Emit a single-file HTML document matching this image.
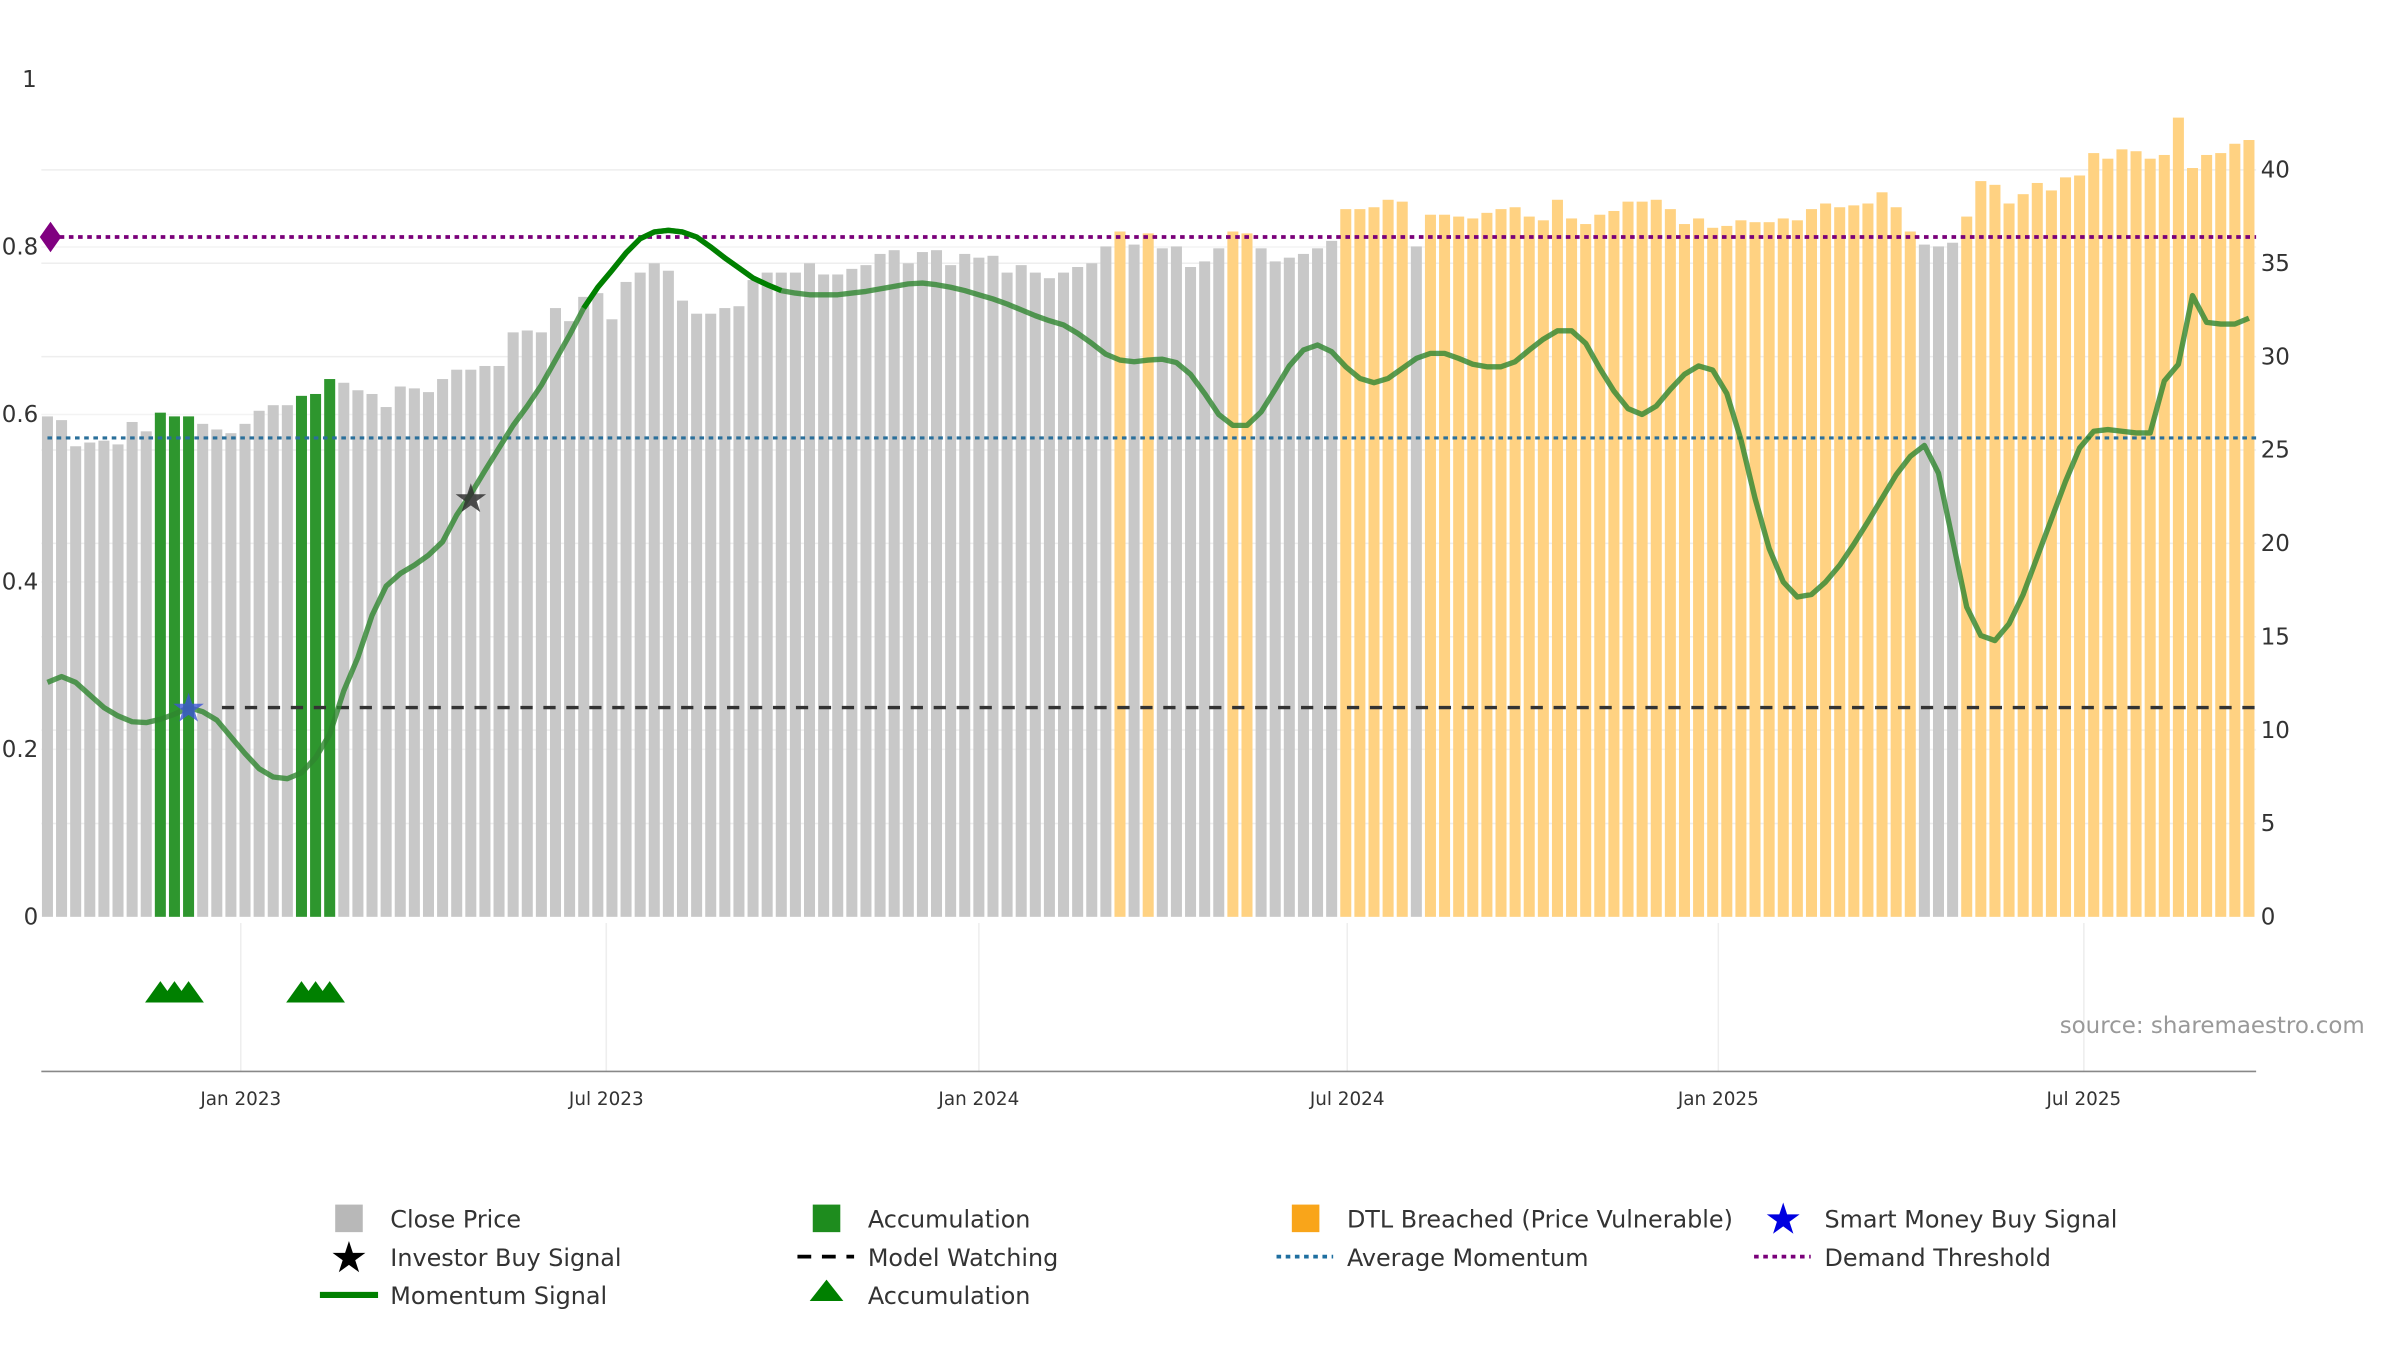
<!DOCTYPE html>
<html><head><meta charset="utf-8"><style>
html,body{margin:0;padding:0;background:#fff;}
svg{display:block;font-family:"DejaVu Sans","Liberation Sans",sans-serif;}
</style></head><body>
<svg id="chart" width="2400" height="1350" viewBox="0 0 1568 882" xmlns="http://www.w3.org/2000/svg">
<g id="grid"></g>
<g id="bars"></g>
<g id="refs"></g>
<g id="line"></g>
<g id="marks"></g>
<g id="axes"></g>
<text x="1545" y="675" text-anchor="end" font-size="15" fill="#999">source: sharemaestro.com</text>
<g id="legend" font-size="15.6" fill="#333">
  <g><rect x="219" y="787" width="18" height="18" fill="#b8b8b8"/><text x="255" y="802">Close Price</text></g>
  <g><rect x="531" y="787" width="18" height="18" fill="#1e8c1e"/><text x="567" y="802">Accumulation</text></g>
  <g><rect x="844" y="787" width="18" height="18" fill="#f9a51a"/><text x="880" y="802">DTL Breached (Price Vulnerable)</text></g>
  <g><text x="1165" y="806" font-size="28" fill="#0000e0" text-anchor="middle">★</text><text x="1192" y="802">Smart Money Buy Signal</text></g>
  <g><text x="228" y="831" font-size="28" fill="#000" text-anchor="middle">★</text><text x="255" y="827">Investor Buy Signal</text></g>
  <g><line x1="521" y1="821" x2="558" y2="821" stroke="#000" stroke-width="2.5" stroke-dasharray="9,7"/><text x="567" y="827">Model Watching</text></g>
  <g><line x1="834" y1="821" x2="871" y2="821" stroke="#1f6fa0" stroke-width="2.5" stroke-dasharray="3,3"/><text x="880" y="827">Average Momentum</text></g>
  <g><line x1="1146" y1="821" x2="1183" y2="821" stroke="#7a007a" stroke-width="2.5" stroke-dasharray="3,3"/><text x="1192" y="827">Demand Threshold</text></g>
  <g><line x1="209" y1="846" x2="247" y2="846" stroke="#008000" stroke-width="4"/><text x="255" y="852">Momentum Signal</text></g>
  <g><polygon points="540,836 551,850 529,850" fill="#008000"/><text x="567" y="852">Accumulation</text></g>
</g>
</svg>
<script>
const prices=[26.8,26.6,25.2,25.4,25.5,25.3,26.5,26.0,27.0,26.8,26.8,26.4,26.1,25.9,26.4,27.1,27.4,27.4,27.9,28.0,28.8,28.6,28.2,28.0,27.3,28.4,28.3,28.1,28.8,29.3,29.3,29.5,
29.5,31.3,31.4,31.3,32.6,31.9,33.2,33.4,32.0,34.0,34.5,35.0,34.6,33.0,32.3,32.3,32.6,32.7,34.1,34.5,34.5,34.5,35.0,34.4,34.4,34.7,34.9,35.5,35.7,35.0,35.6,35.7,34.9,35.5,35.3,35.4,34.5,34.9,34.5,34.2,34.5,34.8,35.0,35.9,36.7,36.0,36.6,35.8,35.9,34.8,35.1,35.8,36.7,36.6,35.8,35.1,35.3,35.5,35.8,36.2,
37.9,37.9,38.0,38.4,38.3,35.9,37.6,37.6,37.5,37.4,37.7,37.9,38.0,37.5,37.3,38.4,37.4,37.1,37.6,37.8,38.3,38.3,38.4,37.9,37.1,37.4,36.9,37.0,37.3,37.2,37.2,37.4,37.3,37.9,38.2,38.0,38.1,38.2,38.8,38.0,36.7,36.0,35.9,36.1,37.5,39.4,39.2,38.2,38.7,39.3,38.9,39.6,39.7,40.9,40.6,41.1,41.0,40.6,40.8,42.8,40.1,40.8,40.9,41.4,41.6];
const accumIdx=[8,9,10,18,19,20];
const dtlIdx=[76,78,84,85];
const dtlRangeStart=92, dtlRangeEnd=156;
const grayInRange=[97,133,134,135];
const momentum=[0.28,0.287,0.28,0.265,0.25,0.24,0.233,0.232,0.236,0.242,0.25,0.245,0.235,0.215,0.195,0.177,0.167,0.165,0.172,0.19,0.218,0.27,0.31,0.36,0.395,0.41,0.42,0.432,0.448,0.48,0.505,0.533,0.56,0.587,0.61,0.635,0.665,0.695,0.727,0.752,0.772,0.793,0.81,0.818,0.82,0.818,0.812,0.8,0.787,0.775,0.763,0.755,0.748,0.745,0.743,0.743,0.743,0.745,0.747,0.75,0.753,0.756,0.757,0.755,0.752,0.748,0.743,0.738,0.732,0.725,0.718,0.712,0.707,0.697,0.685,0.672,0.665,0.663,0.665,0.666,0.662,0.648,0.625,0.6,0.587,0.587,0.603,0.63,0.658,0.677,0.683,0.675,0.657,0.643,0.638,0.643,0.655,0.667,0.673,0.673,0.667,0.66,0.657,0.657,0.663,0.677,0.69,0.7,0.7,0.685,0.655,0.628,0.607,0.6,0.61,0.63,0.648,0.658,0.653,0.625,0.57,0.5,0.44,0.4,0.382,0.385,0.4,0.42,0.445,0.472,0.5,0.528,0.55,0.563,0.53,0.45,0.37,0.336,0.33,0.35,0.385,0.43,0.475,0.52,0.56,0.58,0.582,0.58,0.578,0.578,0.64,0.66,0.742,0.71,0.708,0.708,0.715];
const demandThreshold=0.812, avgMomentum=0.572, modelWatching=0.25;
const investorBuy=[{i:30,v:0.5}];
const smartMoney=[{i:10,v:0.25}];
const rightTicks=[0,5,10,15,20,25,30,35,40];
const leftTicks=[0,0.2,0.4,0.6,0.8,1];
const xTickLabels=["Jan 2023","Jul 2023","Jan 2024","Jul 2024","Jan 2025","Jul 2025"];
const xTickIdx=[13.7,39.6,66.0,92.1,118.4,144.3];

const NS="http://www.w3.org/2000/svg";
const X0=31,STEP=9.22,Y0=599;
const xs=i=>X0+i*STEP;
const yR=v=>Y0-v*12.2;
const yL=v=>Y0-v*547;
function mk(tag,attrs,parent){const e=document.createElementNS(NS,tag);for(const k in attrs)e.setAttribute(k,attrs[k]);parent.appendChild(e);return e;}
const grid=document.getElementById('grid'),bars=document.getElementById('bars'),refs=document.getElementById('refs'),line=document.getElementById('line'),marks=document.getElementById('marks'),axes=document.getElementById('axes');

rightTicks.forEach(t=>{if(t===0)return;const g=mk('line',{x1:27,x2:1474,y1:yR(t),y2:yR(t),stroke:'#eeeeee','stroke-width':1},grid);

});
leftTicks.forEach(t=>{if(t===0||t===1)return;const g=mk('line',{x1:27,x2:1474,y1:yL(t),y2:yL(t),stroke:'#f3f3f3','stroke-width':1},grid);

});
xTickIdx.forEach(ix=>{const g=mk('line',{x1:xs(ix),x2:xs(ix),y1:603,y2:700,stroke:'#eeeeee','stroke-width':1},grid);

});

prices.forEach((p,i)=>{
  let c='#c8c8c8';
  if(accumIdx.includes(i))c='#2e962e';
  else if(dtlIdx.includes(i)||(i>=dtlRangeStart&&i<=dtlRangeEnd&&!grayInRange.includes(i)))c='#ffd282';
  const r=mk('rect',{x:xs(i)-3.6,y:yR(p),width:7.2,height:Y0-yR(p),fill:c},bars);
  
  
});

let l=mk('line',{x1:27,x2:1474,y1:yL(demandThreshold),y2:yL(demandThreshold),stroke:'#7a007a','stroke-width':2.5,'stroke-dasharray':'3,3'},refs);


l=mk('polygon',{points:`33,${yL(demandThreshold)-10} 40,${yL(demandThreshold)} 33,${yL(demandThreshold)+10} 26,${yL(demandThreshold)}`,fill:'#800080'},refs);


l=mk('line',{x1:31,x2:1474,y1:yL(avgMomentum),y2:yL(avgMomentum),stroke:'#2a6f9a','stroke-width':2,'stroke-dasharray':'3,3'},refs);


l=mk('line',{x1:145,x2:1474,y1:yL(modelWatching),y2:yL(modelWatching),stroke:'#333','stroke-width':2.2,'stroke-dasharray':'8,7'},refs);



const pts=momentum.map((v,i)=>`${xs(i)},${yL(v)}`).join(' ');
l=mk('polyline',{points:pts,fill:'none',stroke:'#2f862f','stroke-width':3.5,'stroke-opacity':0.8,'stroke-linejoin':'round'},line);


const hi=momentum.slice(38,53).map((v,k)=>`${xs(38+k)},${yL(v)}`).join(' ');
l=mk('polyline',{points:hi,fill:'none',stroke:'#008000','stroke-width':3.5},line);



smartMoney.forEach(s=>{const t=mk('text',{x:xs(s.i),y:yL(s.v)+9,'font-size':26,fill:'#3d55d6','fill-opacity':0.8,'text-anchor':'middle'},marks);t.textContent='★';

});
investorBuy.forEach(s=>{const t=mk('text',{x:xs(s.i),y:yL(s.v)+9,'font-size':26,fill:'#333','fill-opacity':0.85,'text-anchor':'middle'},marks);t.textContent='★';

});
accumIdx.forEach(i=>{const x=xs(i);const t=mk('polygon',{points:`${x},641 ${x+10},655 ${x-10},655`,fill:'#008000'},marks);

});

l=mk('line',{x1:27,x2:1474,y1:700,y2:700,stroke:'#888','stroke-width':1},axes);


xTickLabels.forEach((s,k)=>{const t=mk('text',{x:xs(xTickIdx[k]),y:722,'font-size':12,fill:'#333','text-anchor':'middle'},axes);t.textContent=s;

});
leftTicks.forEach(v=>{const t=mk('text',{x:v===1?24:25,y:yL(v)+5,'font-size':15,fill:'#333','text-anchor':'end'},axes);t.textContent=v===0?'0':(v===1?'1':v.toFixed(1));

});
rightTicks.forEach(v=>{const t=mk('text',{x:1477,y:yR(v)+5,'font-size':15,fill:'#333'},axes);t.textContent=String(v);

});
</script>
</body></html>
